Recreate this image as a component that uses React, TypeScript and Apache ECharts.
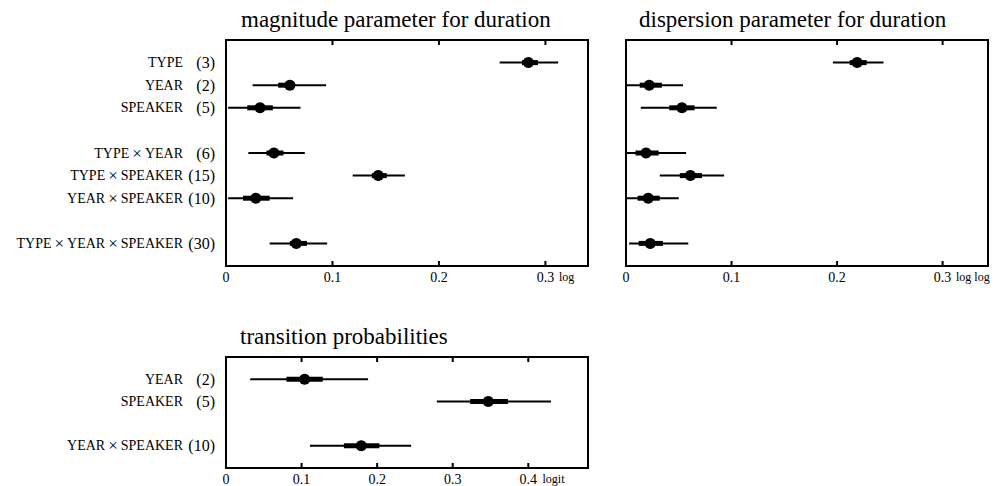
import React, { useEffect, useRef } from "react";
import * as echarts from "echarts";

// ---- data ----
const durationRows = [0, 1, 2, 4, 5, 6, 8];
const durationTerms = ["TYPE", "YEAR", "SPEAKER", "TYPE×YEAR", "TYPE×SPEAKER", "YEAR×SPEAKER", "TYPE×YEAR×SPEAKER"];
const durationCounts = [3, 2, 5, 6, 15, 10, 30];

const magnitudeEst = [0.284, 0.060, 0.032, 0.045, 0.143, 0.028, 0.066];
const magnitudeInnerLo = [0.278, 0.049, 0.020, 0.038, 0.137, 0.016, 0.060];
const magnitudeInnerHi = [0.293, 0.063, 0.044, 0.054, 0.151, 0.041, 0.076];
const magnitudeOuterLo = [0.257, 0.025, 0.002, 0.021, 0.119, 0.002, 0.041];
const magnitudeOuterHi = [0.312, 0.094, 0.070, 0.074, 0.168, 0.063, 0.095];

const dispersionEst = [0.219, 0.022, 0.053, 0.019, 0.061, 0.021, 0.023];
const dispersionInnerLo = [0.212, 0.013, 0.041, 0.009, 0.051, 0.011, 0.012];
const dispersionInnerHi = [0.228, 0.034, 0.065, 0.031, 0.072, 0.032, 0.035];
const dispersionOuterLo = [0.196, 0.0, 0.014, 0.0, 0.032, 0.0, 0.003];
const dispersionOuterHi = [0.244, 0.054, 0.086, 0.057, 0.093, 0.050, 0.059];

const transitionRows = [0, 1, 3];
const transitionTerms = ["YEAR", "SPEAKER", "YEAR×SPEAKER"];
const transitionCounts = [2, 5, 10];
const transitionEst = [0.104, 0.347, 0.179];
const transitionInnerLo = [0.080, 0.323, 0.156];
const transitionInnerHi = [0.128, 0.373, 0.203];
const transitionOuterLo = [0.032, 0.279, 0.111];
const transitionOuterHi = [0.188, 0.430, 0.245];

const durationTicks = [0.1, 0.2, 0.3];
const transitionTicks = [0.1, 0.2, 0.3, 0.4];

const panelTitles = ["magnitude parameter for duration", "dispersion parameter for duration", "transition probabilities"];
const panelUnits = ["log", "log log", "logit"];
const panelLastTicks = [0.3, 0.3, 0.4];
const panelMax = [0.34, 0.343, 0.479];

const SERIF = "Liberation Serif";

function buildData(rows: number[], est: number[], iLo: number[], iHi: number[], oLo: number[], oHi: number[]) {
  return rows.map((r, i) => [r, est[i], iLo[i], iHi[i], oLo[i], oHi[i]]);
}

function yFormatter(rows: number[], terms: string[], counts: number[]) {
  return (v: number) => {
    const i = rows.indexOf(Math.round(v));
    if (i < 0 || Math.abs(v - Math.round(v)) > 1e-9) return "";
    const parts = terms[i].split("×");
    const name = parts.map((p) => `{n|${p}}`).join("{x|×}");
    return `${name}{c|(${counts[i]})}`;
  };
}

const yRich = {
  n: { fontFamily: SERIF, fontSize: 14, color: "#000", align: "right" },
  x: { fontFamily: SERIF, fontSize: 17, color: "#000", align: "right", padding: [0, 3, 0, 3] },
  c: { fontFamily: SERIF, fontSize: 16, color: "#000", width: 32, align: "right" },
};

function xFormatter(lastTick: number, unit: string) {
  return (v: number) => {
    const r = Math.round(v * 10) / 10;
    if (Math.abs(v - r) > 1e-9) return "";
    if (r === 0) return "{v|0}";
    const s = r.toFixed(1);
    if (Math.abs(r - lastTick) < 1e-9) return `{p|}{v|${s}}{u| ${unit}}`;
    return `{v|${s}}`;
  };
}

function xRich(unitWidth: number) {
  return {
    v: { fontFamily: SERIF, fontSize: 14, color: "#000" },
    p: { width: unitWidth },
    u: { fontFamily: SERIF, fontSize: 12, color: "#000", width: unitWidth, align: "left" },
  };
}

const renderInterval = (params: any, api: any) => {
  const y = api.value(0);
  const est = api.coord([api.value(1), y]);
  const iLo = api.coord([api.value(2), y]);
  const iHi = api.coord([api.value(3), y]);
  const oLo = api.coord([api.value(4), y]);
  const oHi = api.coord([api.value(5), y]);
  return {
    type: "group",
    children: [
      { type: "line", shape: { x1: oLo[0], y1: oLo[1], x2: oHi[0], y2: oHi[1] }, style: { stroke: "#000", lineWidth: 2 } },
      { type: "line", shape: { x1: iLo[0], y1: iLo[1], x2: iHi[0], y2: iHi[1] }, style: { stroke: "#000", lineWidth: 5 } },
      { type: "circle", shape: { cx: est[0], cy: est[1], r: 5.5 }, style: { fill: "#000" } },
    ],
  };
};

// axis tick marks drawn inward on the top and bottom frame edges
const renderTick = (params: any, api: any) => {
  const lo = api.coord([api.value(0), api.value(1)]);
  const hi = api.coord([api.value(0), api.value(2)]);
  const x = lo[0];
  const top = Math.min(lo[1], hi[1]);
  const bottom = Math.max(lo[1], hi[1]);
  const len = 5;
  return {
    type: "group",
    children: [
      { type: "line", shape: { x1: x, y1: top, x2: x, y2: top + len }, style: { stroke: "#000", lineWidth: 2 } },
      { type: "line", shape: { x1: x, y1: bottom, x2: x, y2: bottom - len }, style: { stroke: "#000", lineWidth: 2 } },
    ],
  };
};

export default function App() {
  const ref = useRef<HTMLDivElement>(null);
  useEffect(() => {
    document.body.style.margin = "0";
    if (!ref.current) return;
    const chart = echarts.init(ref.current, null, { renderer: "svg" });

    const grids = [
      { left: 226, top: 40, width: 362, height: 226 },
      { left: 626, top: 40, width: 362, height: 226 },
      { left: 226, top: 357, width: 362, height: 113 },
    ];
    const yRanges = [[-1, 9], [-1, 9], [-1, 4]];
    const unitWidths = [22, 40, 30];

    const xAxes: any[] = grids.map((g, i) => ({
      type: "value",
      gridIndex: i,
      min: 0,
      max: panelMax[i],
      interval: 0.1,
      position: "bottom",
      axisLine: { show: false, onZero: false },
      splitLine: { show: false },
      axisTick: { show: false },
      axisLabel: {
        show: true,
        margin: 4,
        showMaxLabel: false,
        formatter: xFormatter(panelLastTicks[i], panelUnits[i]),
        rich: xRich(unitWidths[i]),
      },
    }));

    const yAxes = [
      {
        type: "value", gridIndex: 0, min: yRanges[0][0], max: yRanges[0][1], interval: 1, inverse: true,
        axisLine: { show: false, onZero: false }, axisTick: { show: false }, splitLine: { show: false },
        axisLabel: { margin: 11, formatter: yFormatter(durationRows, durationTerms, durationCounts), rich: yRich },
      },
      {
        type: "value", gridIndex: 1, min: yRanges[1][0], max: yRanges[1][1], interval: 1, inverse: true,
        axisLine: { show: false, onZero: false }, axisTick: { show: false }, splitLine: { show: false },
        axisLabel: { show: false },
      },
      {
        type: "value", gridIndex: 2, min: yRanges[2][0], max: yRanges[2][1], interval: 1, inverse: true,
        axisLine: { show: false, onZero: false }, axisTick: { show: false }, splitLine: { show: false },
        axisLabel: { margin: 11, formatter: yFormatter(transitionRows, transitionTerms, transitionCounts), rich: yRich },
      },
    ];

    const mkSeries = (idx: number, data: number[][]) => ({
      type: "custom",
      xAxisIndex: idx,
      yAxisIndex: idx,
      renderItem: renderInterval,
      encode: { x: [1, 2, 3, 4, 5], y: 0 },
      data,
      clip: false,
      z: 3,
    });
    const mkTicks = (idx: number, ticks: number[]) => ({
      type: "custom",
      xAxisIndex: idx,
      yAxisIndex: idx,
      renderItem: renderTick,
      encode: { x: 0, y: [1, 2] },
      data: ticks.map((t) => [t, yRanges[idx][0], yRanges[idx][1]]),
      clip: false,
      silent: true,
      z: 2,
    });

    const titleStyle = { fontFamily: SERIF, fontSize: 23, fontWeight: "normal", color: "#000" };

    chart.setOption({
      animation: false,
      backgroundColor: "#fff",
      title: [
        { text: panelTitles[0], left: 241, top: 8, padding: 0, textStyle: titleStyle },
        { text: panelTitles[1], left: 639, top: 8, padding: 0, textStyle: titleStyle },
        { text: panelTitles[2], left: 240, top: 325, padding: 0, textStyle: titleStyle },
      ],
      grid: grids.map((g) => ({ ...g, show: true, borderColor: "#000", borderWidth: 2, backgroundColor: "transparent" })),
      xAxis: xAxes,
      yAxis: yAxes,
      series: [
        mkTicks(0, durationTicks),
        mkTicks(1, durationTicks),
        mkTicks(2, transitionTicks),
        mkSeries(0, buildData(durationRows, magnitudeEst, magnitudeInnerLo, magnitudeInnerHi, magnitudeOuterLo, magnitudeOuterHi)),
        mkSeries(1, buildData(durationRows, dispersionEst, dispersionInnerLo, dispersionInnerHi, dispersionOuterLo, dispersionOuterHi)),
        mkSeries(2, buildData(transitionRows, transitionEst, transitionInnerLo, transitionInnerHi, transitionOuterLo, transitionOuterHi)),
      ],
    });
    return () => chart.dispose();
  }, []);
  return <div ref={ref} style={{ width: 995, height: 486 }} />;
}
